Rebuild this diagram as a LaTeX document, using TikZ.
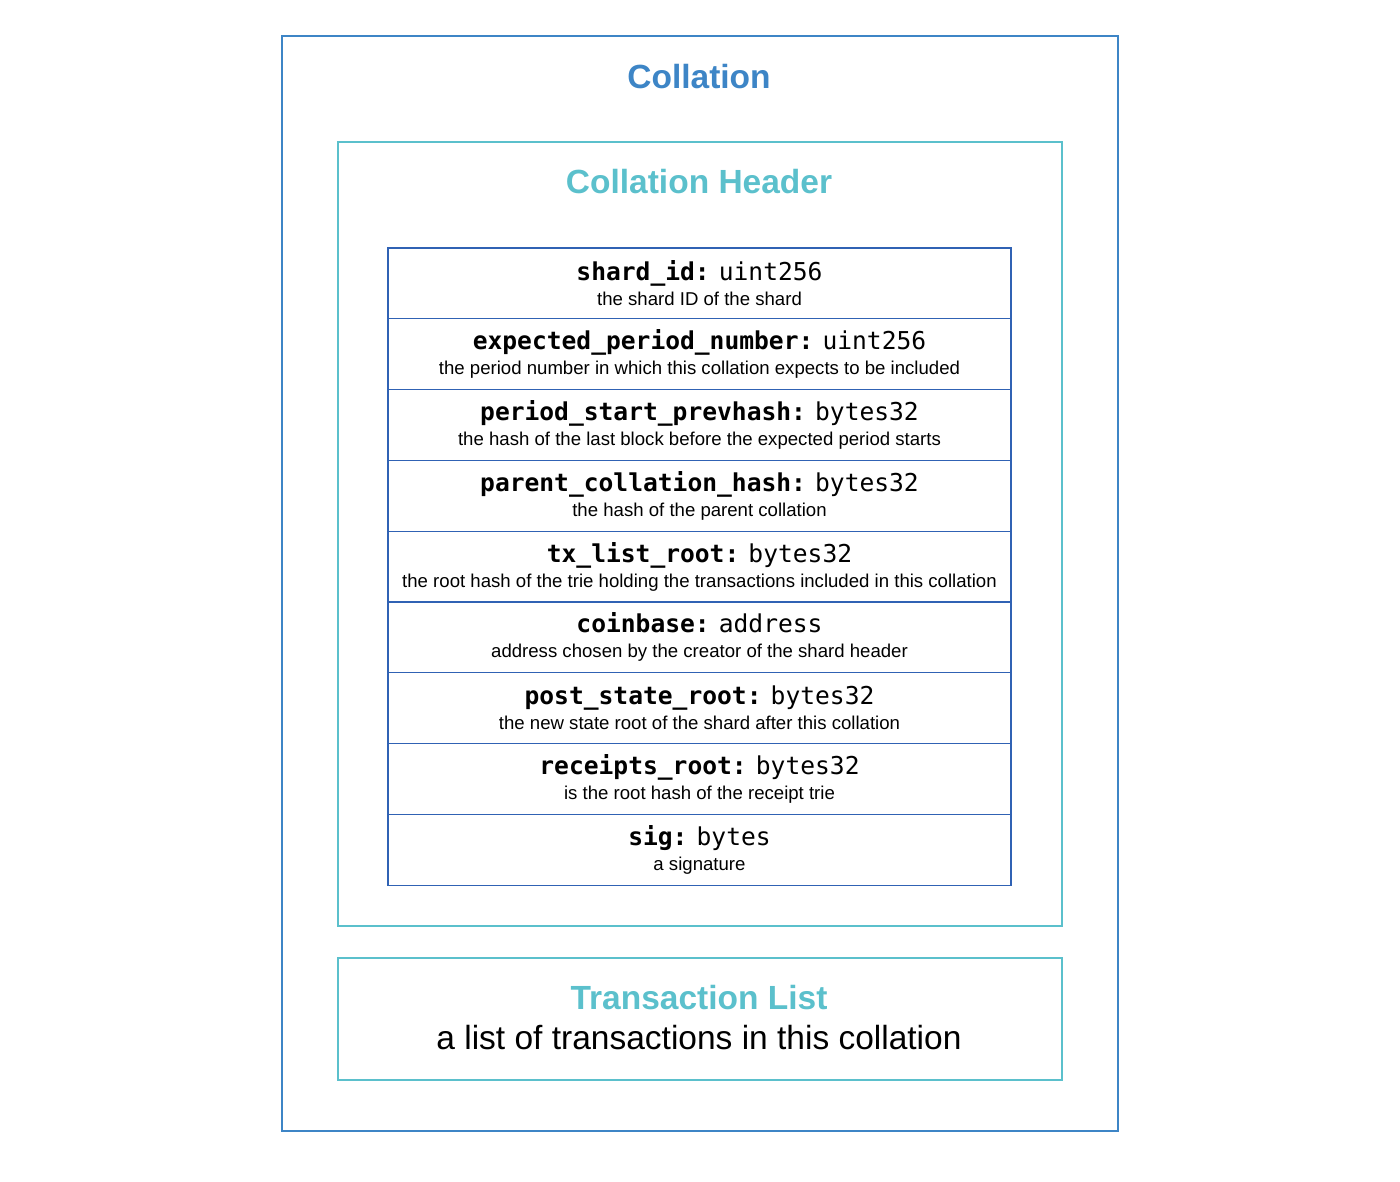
\documentclass[tikz,border=0pt]{standalone}
\usepackage{fontspec}
\setmainfont{Liberation Sans}
\setmonofont{DejaVu Sans Mono}
\usepackage{tikz}
\definecolor{collblue}{HTML}{3D85C6}
\definecolor{headteal}{HTML}{5BC0CC}
\definecolor{rowblue}{HTML}{3062B4}
\newcommand{\fname}[1]{\textbf{\ttfamily #1}}
\newcommand{\ftype}[1]{{\ttfamily #1}}
\tikzset{
  fieldrow/.style={draw=rowblue,line width=1.2pt,minimum width=623pt,minimum height=70.8pt,
    align=center,inner sep=0pt,font=\fontsize{18.6}{25}\selectfont},
  bigtitle/.style={font=\fontsize{33.5}{38}\selectfont\bfseries}
}
\newcommand{\rowtext}[3]{{\fontsize{24.6}{25}\selectfont\fname{#1} \ftype{#2}}\\#3}

\begin{document}
\begin{tikzpicture}[x=1pt,y=1pt]
  \useasboundingbox (0,0) rectangle (1400,-1181);
  % boxes
  \draw[collblue,line width=2pt] (282,-36) rectangle (1118,-1131);
  \draw[headteal,line width=2pt] (338,-142) rectangle (1062,-926);
  \draw[headteal,line width=2pt] (338,-958) rectangle (1062,-1080);
  % titles
  \node[bigtitle,text=collblue] (coll) at (699,-77) {Collation};
  \node[bigtitle,text=headteal] (head) at (699,-182) {Collation Header};
  % header fields
  \node[fieldrow] (r1) at (699.5,-283.4) {\rowtext{shard\_id:}{uint256}{the shard ID of the shard}};
  \node[fieldrow] (r2) at (699.5,-354.2) {\rowtext{expected\_period\_number:}{uint256}{the period number in which this collation expects to be included}};
  \node[fieldrow] (r3) at (699.5,-425.0) {\rowtext{period\_start\_prevhash:}{bytes32}{the hash of the last block before the expected period starts}};
  \node[fieldrow] (r4) at (699.5,-495.8) {\rowtext{parent\_collation\_hash:}{bytes32}{the hash of the parent collation}};
  \node[fieldrow] (r5) at (699.5,-566.6) {\rowtext{tx\_list\_root:}{bytes32}{the root hash of the trie holding the transactions included in this collation}};
  \node[fieldrow] (r6) at (699.5,-637.4) {\rowtext{coinbase:}{address}{address chosen by the creator of the shard header}};
  \node[fieldrow] (r7) at (699.5,-708.2) {\rowtext{post\_state\_root:}{bytes32}{the new state root of the shard after this collation}};
  \node[fieldrow] (r8) at (699.5,-779.0) {\rowtext{receipts\_root:}{bytes32}{is the root hash of the receipt trie}};
  \node[fieldrow] (r9) at (699.5,-849.8) {\rowtext{sig:}{bytes}{a signature}};
  % transaction list
  \node[bigtitle,text=headteal] (txl) at (699,-998) {Transaction List};
  \node[font=\fontsize{33.5}{38}\selectfont] (txd) at (699,-1038) {a list of transactions in this collation};
\end{tikzpicture}
\end{document}
